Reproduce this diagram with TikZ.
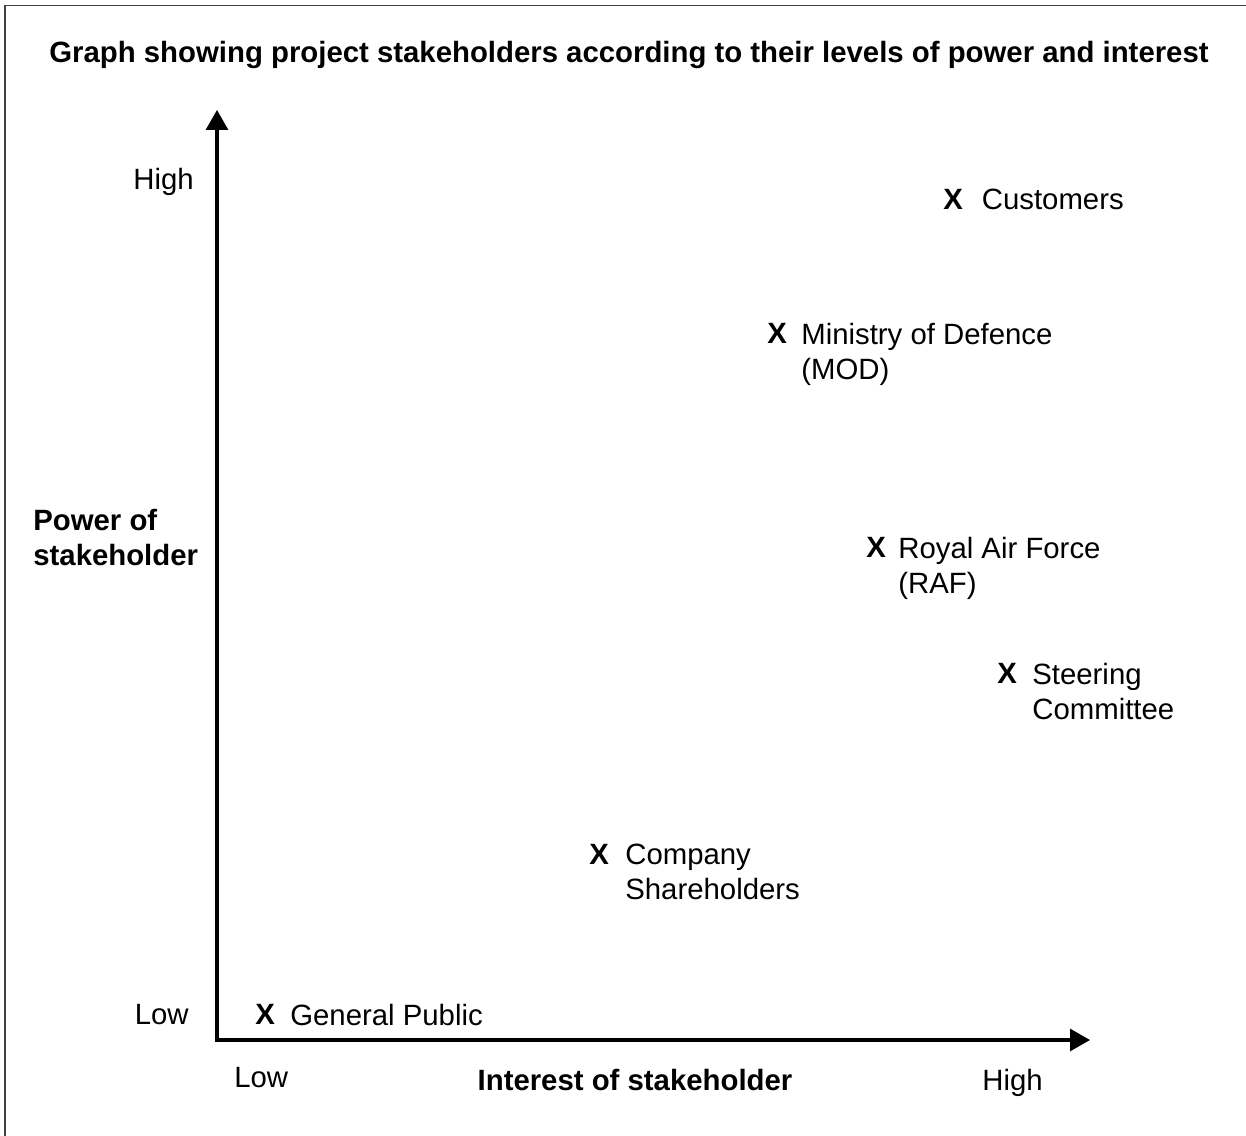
\documentclass[tikz,border=0pt]{standalone}
\usepackage{fontspec}
\setmainfont{Liberation Sans}
\usetikzlibrary{arrows.meta}
\begin{document}
\begin{tikzpicture}[x=0.02cm, y=-0.02cm,
        every node/.style={inner sep=0, anchor=north west, align=left, font=\fontsize{16.7}{19.8}\selectfont},
        boldtext/.style={font=\fontsize{16.7}{19.8}\selectfont\bfseries},
        axis/.style={line width=1.8pt, line cap=rect, -{Triangle[length=0.4cm, width=0.44cm]}}]
        \useasboundingbox (0,0) rectangle (1246,1135);

        % Cornice
        \draw[line width=0.8pt, black!75] (5,1140) -- (5,5.5) -- (1250,5.5);

        % Titolo
        \node[boldtext, anchor=north] (title) at (629,41) {Graph showing project stakeholders according to their levels of power and interest};

        % Assi
        \coordinate (O) at (217,1040);
        \coordinate (ytop) at (217,110);
        \coordinate (xend) at (1090,1040);
        \draw[axis] (O) -- (ytop);
        \draw[axis] (O) -- (xend);

        % Etichette degli assi
        \node (yhigh) at (133,168) {High};
        \node (ylow) at (134.5,1004) {Low};
        \node[boldtext] (ylab) at (33,509) {Power of\\stakeholder};
        \node (xlow) at (234,1067) {Low};
        \node[boldtext, anchor=north] (xlab) at (635,1069) {Interest of stakeholder};
        \node (xhigh) at (982,1069) {High};

        % Stakeholder
        \node[boldtext] (cust) at (943,189) {X};
        \node (custL) at (981.5,189) {Customers};
        \node[boldtext] (mod) at (767,323) {X};
        \node (modL) at (801,323) {Ministry of Defence\\(MOD)};
        \node[boldtext] (raf) at (866,537) {X};
        \node (rafL) at (898,537) {Royal Air Force\\(RAF)};
        \node[boldtext] (steer) at (997,663) {X};
        \node (steerL) at (1032,663) {Steering\\Committee};
        \node[boldtext] (comp) at (589,844) {X};
        \node (compL) at (625,844) {Company\\Shareholders};
        \node[boldtext] (pub) at (255,1004) {X};
        \node (pubL) at (290,1004) {General Public};
    \end{tikzpicture}
\end{document}
